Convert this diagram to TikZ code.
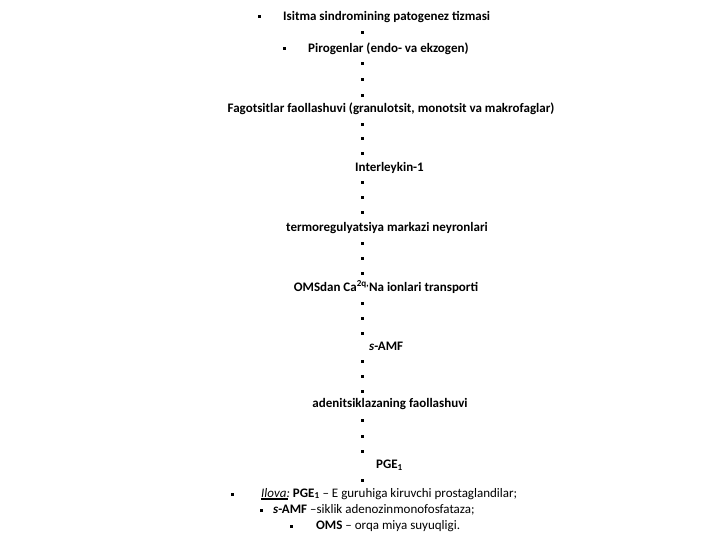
\documentclass[tikz,border=0pt]{standalone}
\usepackage{fontspec}
\setmainfont{Carlito}
\begin{document}
\begin{tikzpicture}[x=1pt,y=-1pt,
  flow/.style={inner sep=0pt, font=\fontsize{13}{15}\selectfont\bfseries},
  legend/.style={inner sep=0pt, anchor=west, font=\fontsize{13}{15}\selectfont},
  sq/.style={fill=black, inner sep=0pt, minimum size=3pt, draw=none}]
\useasboundingbox (0,0) rectangle (720,540);
% title and pyrogens
\node[sq] (b1) at (259,17) {};
\node[flow, anchor=west] (t1) at (283,17) {Isitma sindromining patogenez tizmasi};
\node[sq] (d1) at (362,33) {};
\node[sq] (b2) at (284,49) {};
\node[flow, anchor=west] (t2) at (308,49) {Pirogenlar (endo- va ekzogen)};
\node[sq] (d2) at (362,64) {};
\node[sq] (d3) at (362,80) {};
\node[sq] (d4) at (362,96) {};
\node[flow] (t3) at (391,109) {Fagotsitlar faollashuvi (granulotsit, monotsit va makrofaglar)};
\node[sq] (d5) at (362,125) {};
\node[sq] (d6) at (362,139) {};
\node[sq] (d7) at (362,154) {};
\node[flow, anchor=west] (t4) at (355,168) {Interleykin-1};
\node[sq] (d8) at (362,183) {};
\node[sq] (d9) at (362,198) {};
\node[sq] (d10) at (362,213) {};
\node[flow] (t5) at (387,228) {termoregulyatsiya markazi neyronlari};
\node[sq] (d11) at (362,243) {};
\node[sq] (d12) at (362,258) {};
\node[sq] (d13) at (362,273) {};
\node[flow] (t6) at (386,287) {OMSdan Ca\textsuperscript{2q,}Na ionlari transporti};
\node[sq] (d14) at (362,303) {};
\node[sq] (d15) at (362,318) {};
\node[sq] (d16) at (362,333) {};
\node[flow, anchor=west] (t7) at (369,346) {\textit{s}-AMF};
\node[sq] (d17) at (362,361) {};
\node[sq] (d18) at (362,376) {};
\node[sq] (d19) at (362,391) {};
\node[flow] (t8) at (390,404) {adenitsiklazaning faollashuvi};
\node[sq] (d20) at (362,420) {};
\node[sq] (d21) at (362,436) {};
\node[sq] (d22) at (362,451) {};
\node[flow, anchor=west] (t9) at (376,465) {PGE\textsubscript{1}};
\node[sq] (d23) at (362,480) {};
% legend
\node[sq] (b3) at (232,494) {};
\node[legend] (l1) at (261,494) {{\setbox0\hbox{\itshape Ilova:}\rlap{\rule[-3pt]{\dimexpr\wd0-2pt\relax}{2.4pt}}\box0} \textbf{PGE\textsubscript{1}} -- E guruhiga kiruvchi prostaglandilar;};
\node[sq] (b4) at (261,510) {};
\node[legend] (l2) at (273,510) {\textbf{\textit{s}-AMF} --siklik adenozinmonofosfataza;};
\node[sq] (b5) at (291,526) {};
\node[legend] (l3) at (316,526) {\textbf{OMS} -- orqa miya suyuqligi.};
\end{tikzpicture}
\end{document}
